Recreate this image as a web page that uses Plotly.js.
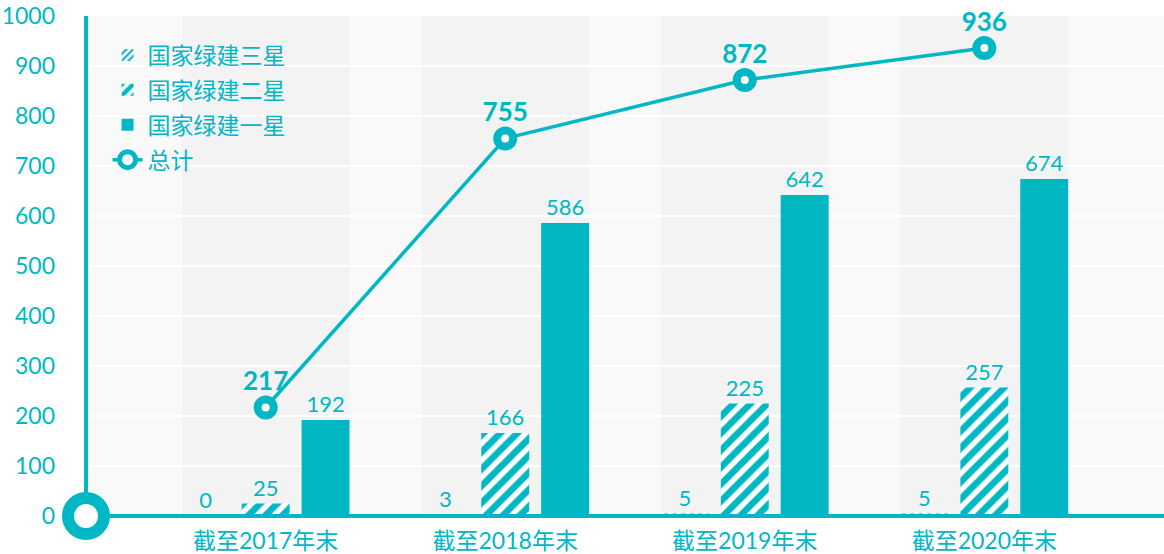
<!DOCTYPE html>
<html><head><meta charset="utf-8">
<script src="https://cdn.plot.ly/plotly-3.0.1.min.js"></script>
<style>html,body{margin:0;padding:0;background:#fff}#chart{width:1164px;height:554px}</style>
</head><body><div id="chart"></div>
<script>
const categories = ['截至2017年末','截至2018年末','截至2019年末','截至2020年末'];
const star3 = [0, 3, 5, 5];
const star2 = [25, 166, 225, 257];
const star1 = [192, 586, 642, 674];
const total = [217, 755, 872, 936];
const yTicks = [0,100,200,300,400,500,600,700,800,900,1000];

const C = '#00b7c3';
const FONT = 'Lato, "Noto Sans CJK SC", sans-serif';
const idx = categories.map((_, i) => i);

const barBase = {
  type: 'bar', x: idx, width: 0.2, textposition: 'outside', cliponaxis: false,
  texttemplate: '%{y}', textfont: {color: C, size: 22, family: FONT},
  hoverinfo: 'skip'
};
const traces = [
  Object.assign({}, barBase, {name: '国家绿建三星', y: star3, offset: -0.35, legendgroup: 'a',
    marker: {color: '#fff', line: {width: 0}, pattern: {shape: '/', fgcolor: C, bgcolor: '#fff', size: 6, solidity: 0.45}}}),
  Object.assign({}, barBase, {name: '国家绿建二星', y: star2, offset: -0.1, legendgroup: 'b',
    marker: {color: '#fff', line: {width: 0}, pattern: {shape: '/', fgcolor: C, bgcolor: '#fff', size: 12, solidity: 0.55}}}),
  Object.assign({}, barBase, {name: '国家绿建一星', y: star1, offset: 0.15, legendgroup: 'c',
    marker: {color: C, line: {width: 0}}}),
  {type: 'scatter', mode: 'lines+markers+text', name: '总计', x: idx, y: total, legendgroup: 'd',
    line: {color: C, width: 3.5}, cliponaxis: false,
    marker: {size: 16, color: '#fff', line: {color: C, width: 8}},
    text: total.map(String), textposition: 'top center',
    textfont: {color: C, size: 26, family: FONT, weight: 'bold'}, hoverinfo: 'skip'}
];

const shapes = idx.map(i => ({type: 'rect', xref: 'x', yref: 'y', x0: i - 0.35, x1: i + 0.35, y0: 0, y1: 1000,
  fillcolor: '#f3f3f3', line: {width: 0}, layer: 'below'}));
// axis lines (decorative)
shapes.push({type: 'line', xref: 'paper', yref: 'paper', x0: 0, x1: 1, y0: 0, y1: 0, line: {color: C, width: 4}, layer: 'above'});
shapes.push({type: 'line', xref: 'paper', yref: 'paper', x0: 0, x1: 0, y0: 0, y1: 1, line: {color: C, width: 4}, layer: 'above'});
// origin ring
shapes.push({type: 'circle', xref: 'paper', yref: 'paper', xsizemode: 'pixel', ysizemode: 'pixel',
  xanchor: 0, yanchor: 0, x0: -18, x1: 18, y0: -18, y1: 18,
  fillcolor: '#fff', line: {color: C, width: 12}, layer: 'above'});

const layout = {
  width: 1164, height: 554,
  margin: {l: 86, r: 0, t: 16, b: 38},
  paper_bgcolor: '#fff', plot_bgcolor: '#f9f9f9',
  barmode: 'overlay', showlegend: true,
  font: {family: FONT, color: C},
  xaxis: {range: [-0.75, 3.75], tickvals: idx, ticktext: categories, showgrid: false, zeroline: false,
    showline: false, ticks: '', ticklabelstandoff: 9, tickfont: {size: 23, color: C}, fixedrange: true},
  yaxis: {range: [0, 1000], tickvals: yTicks, showgrid: true, gridcolor: '#ffffff', gridwidth: 2,
    zeroline: false, showline: false, ticks: '', ticklabelstandoff: 30,
    tickfont: {size: 23, color: C}, fixedrange: true},
  shapes: shapes,
  legend: {x: 0.02, y: 0.965, xanchor: 'left', yanchor: 'top', bgcolor: 'rgba(0,0,0,0)',
    font: {size: 23, color: C, family: FONT}, traceorder: 'grouped', tracegroupgap: 2, itemwidth: 30}
};
Plotly.newPlot('chart', traces, layout, {displayModeBar: false, staticPlot: true});
</script></body></html>
